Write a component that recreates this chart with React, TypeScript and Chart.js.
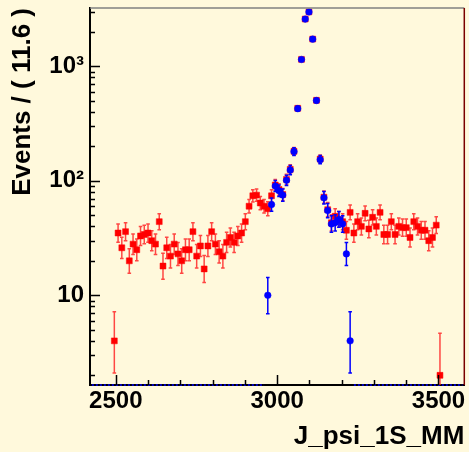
import React, { useEffect, useRef } from "react";
import { Chart, registerables } from "chart.js";

Chart.register(...registerables);

// ---- axis ranges / binning ----
const X_MIN = 2420;
const X_MAX = 3580;
const BIN_WIDTH = 11.6;
const N_BINS = 100;
const Y_MIN = 1.646;
const Y_MAX = 3233;

// ---- data: red histogram (all candidates), bins 6..93 ----
const RED_FIRST_BIN = 6;
const redCounts = [
  4, 35, 26, 36, 20, 28, 25, 33, 34, 35,
  30, 28, 44, 18, 26, 22, 28, 23, 20, 25,
  25, 36, 22, 27, 17, 27, 36, 28, 24, 22,
  29, 32, 29, 33, 35, 44, 60, 74, 75, 64,
  60, 57, 74, 92, 84, 76, 103, 126, 181, 430,
  1150, 2590, 2990, 1730, 505, 155, 72, 56, 43, 49,
  46, 44, 37, 53, 35, 44, 40, 52, 38, 48,
  40, 53, 34, 34, 44, 34, 40, 39, 39, 32,
  44, 40, 37, 37, 30, 32, 41, 2,
];

// ---- data: blue histogram (selected), bins 47..69, zero elsewhere ----
const BLUE_FIRST_BIN = 47;
const blueCounts = [
  10, 62, 90, 82, 75, 101, 124, 180, 427, 1148,
  2585, 2985, 1728, 503, 153, 71, 55, 42, 43, 46,
  42, 23, 4,
];

// ---- ticks / labels ----
const xLabelTicks = [2500, 3000, 3500];
const xAllTicks = [2500, 2600, 2700, 2800, 2900, 3000, 3100, 3200, 3300, 3400, 3500];
const yLabelTicks = [10, 100, 1000];
const yTickLabels = ["10", "10\u00B2", "10\u00B3"];
const xTitle = "J_psi_1S_MM";
const yTitle = "Events / ( 11.6 )";

const FONT = "'Liberation Sans', Arial, Helvetica, sans-serif";
const BG = "#fff9dc";

const binCenter = (i: number) => X_MIN + BIN_WIDTH * (i + 0.5);
const poissonLo = (n: number) =>
  n * Math.pow(1 - 1 / (9 * n) - 1 / (3 * Math.sqrt(n)), 3);
const poissonHi = (n: number) => n + Math.sqrt(n + 0.75) + 1;

const toPoints = (first: number, counts: number[]) =>
  counts.map((n, k) => ({
    x: binCenter(first + k),
    y: n,
    lo: poissonLo(n),
    hi: poissonHi(n),
  }));

const blueZeroPoints = () => {
  const pts: { x: number; y: number | null }[] = [];
  for (let i = 0; i < N_BINS; i++) {
    const inside = i >= BLUE_FIRST_BIN && i < BLUE_FIRST_BIN + blueCounts.length;
    pts.push({ x: binCenter(i), y: inside ? null : Y_MIN });
  }
  return pts;
};

const errorBarPlugin = {
  id: "errorBars",
  beforeDatasetDraw(chart: any, args: any) {
    const ds = chart.data.datasets[args.index];
    if (!ds.errorColor) return;
    const { ctx, chartArea, scales } = chart;
    const xs = scales.x;
    const ys = scales.y;
    ctx.save();
    ctx.beginPath();
    ctx.rect(
      chartArea.left,
      chartArea.top,
      chartArea.right - chartArea.left,
      chartArea.bottom - chartArea.top
    );
    ctx.clip();
    ctx.strokeStyle = ds.errorColor;
    ctx.lineWidth = 1.5;
    const cap = 1.8;
    for (const p of ds.data) {
      const px = xs.getPixelForValue(p.x);
      const pLo = ys.getPixelForValue(p.lo);
      const pHi = ys.getPixelForValue(p.hi);
      ctx.beginPath();
      ctx.moveTo(px, pLo);
      ctx.lineTo(px, pHi);
      ctx.moveTo(px - cap, pLo);
      ctx.lineTo(px + cap, pLo);
      ctx.moveTo(px - cap, pHi);
      ctx.lineTo(px + cap, pHi);
      ctx.stroke();
    }
    ctx.restore();
  },
};

const framePlugin = {
  id: "frameTicks",
  afterDatasetsDraw(chart: any) {
    const { ctx, chartArea, scales } = chart;
    const { left, right, top, bottom } = chartArea;
    const xs = scales.x;
    const ys = scales.y;
    ctx.save();
    ctx.strokeStyle = "#000";
    ctx.lineWidth = 1.5;
    ctx.beginPath();
    for (const v of xAllTicks) {
      const px = Math.round(xs.getPixelForValue(v)) + 0.5;
      const len = xLabelTicks.includes(v) ? 10 : 5;
      ctx.moveTo(px, bottom);
      ctx.lineTo(px, bottom - len);
    }
    const d0 = Math.floor(Math.log10(Y_MIN));
    const d1 = Math.ceil(Math.log10(Y_MAX));
    for (let d = d0; d <= d1; d++) {
      for (let k = 1; k <= 9; k++) {
        const v = k * Math.pow(10, d);
        if (v < Y_MIN || v > Y_MAX) continue;
        const py = Math.round(ys.getPixelForValue(v)) + 0.5;
        const len = k === 1 ? 10 : 5;
        ctx.moveTo(left, py);
        ctx.lineTo(left + len, py);
      }
    }
    ctx.stroke();
    // top and right frame
    ctx.lineWidth = 1.5;
    ctx.strokeStyle = "#808080";
    ctx.beginPath();
    ctx.moveTo(left, top);
    ctx.lineTo(right, top);
    ctx.stroke();
    ctx.strokeStyle = "#7a0000";
    ctx.beginPath();
    ctx.moveTo(right, top);
    ctx.lineTo(right, bottom);
    ctx.stroke();
    ctx.restore();
  },
};

export default function App() {
  const ref = useRef<HTMLCanvasElement>(null);

  useEffect(() => {
    if (!ref.current) return;
    const chart = new Chart(ref.current, {
      type: "scatter",
      data: {
        datasets: [
          {
            label: "selected",
            data: toPoints(BLUE_FIRST_BIN, blueCounts),
            pointStyle: "circle",
            pointRadius: 3.3,
            pointBackgroundColor: "#0000ff",
            pointBorderColor: "#0000ff",
            pointBorderWidth: 0.5,
            showLine: false,
            order: 0,
            errorColor: "#0000ff",
          } as any,
          {
            label: "all",
            data: toPoints(RED_FIRST_BIN, redCounts),
            pointStyle: "rect",
            pointRadius: 4.2,
            pointBackgroundColor: "#ff0000",
            pointBorderColor: "#ff0000",
            pointBorderWidth: 0.5,
            showLine: false,
            order: 1,
            errorColor: "rgba(255,40,40,0.85)",
          } as any,
          {
            label: "selected-zero",
            data: blueZeroPoints(),
            showLine: true,
            spanGaps: false,
            borderColor: "#0000ff",
            borderWidth: 1.5,
            borderDash: [2, 2],
            pointRadius: 0,
            clip: false,
            order: 2,
          } as any,
        ],
      },
      options: {
        responsive: false,
        devicePixelRatio: 1,
        animation: false,
        events: [],
        layout: { padding: { top: 8, right: 4, left: 0, bottom: 0 } },
        plugins: {
          legend: { display: false },
          tooltip: { enabled: false },
        },
        scales: {
          x: {
            type: "linear",
            position: "bottom",
            min: X_MIN,
            max: X_MAX,
            afterBuildTicks: (s: any) => {
              s.ticks = xLabelTicks.map((v) => ({ value: v }));
            },
            afterFit: (s: any) => {
              s.height = 452 - 385;
              s.paddingLeft = 0;
              s.paddingRight = 0;
            },
            grid: { display: false, drawTicks: false },
            border: { display: true, color: "#000", width: 2 },
            ticks: {
              color: "#000",
              font: { family: FONT, size: 24, weight: "bold" },
              padding: 2,
              maxRotation: 0,
              autoSkip: false,
              callback: (v: any) => String(v),
            },
            title: {
              display: true,
              text: xTitle,
              align: "end",
              color: "#000",
              font: { family: FONT, size: 26, weight: "bold", lineHeight: 1.2 },
              padding: { top: 0, bottom: 0 },
            },
          },
          y: {
            type: "logarithmic",
            position: "left",
            min: Y_MIN,
            max: Y_MAX,
            afterBuildTicks: (s: any) => {
              s.ticks = yLabelTicks.map((v) => ({ value: v }));
            },
            afterFit: (s: any) => {
              s.width = 90;
              s.paddingTop = 0;
              s.paddingBottom = 0;
            },
            grid: { display: false, drawTicks: false },
            border: { display: true, color: "#000", width: 2 },
            ticks: {
              color: "#000",
              font: { family: FONT, size: 24, weight: "bold" },
              padding: 6,
              autoSkip: false,
              callback: (v: any) => {
                const i = yLabelTicks.indexOf(Number(v));
                return i >= 0 ? yTickLabels[i] : "";
              },
            },
            title: {
              display: true,
              text: yTitle,
              align: "end",
              color: "#000",
              font: { family: FONT, size: 26, weight: "bold", lineHeight: 1.2 },
              padding: { top: 7.5, bottom: 0 },
            },
          },
        },
      } as any,
      plugins: [errorBarPlugin, framePlugin],
    });
    return () => chart.destroy();
  }, []);

  return (
    <div
      style={{
        position: "fixed",
        left: 0,
        top: 0,
        width: 469,
        height: 452,
        background: BG,
      }}
    >
      <canvas
        ref={ref}
        width={469}
        height={452}
        style={{ display: "block", width: 469, height: 452 }}
      />
    </div>
  );
}
